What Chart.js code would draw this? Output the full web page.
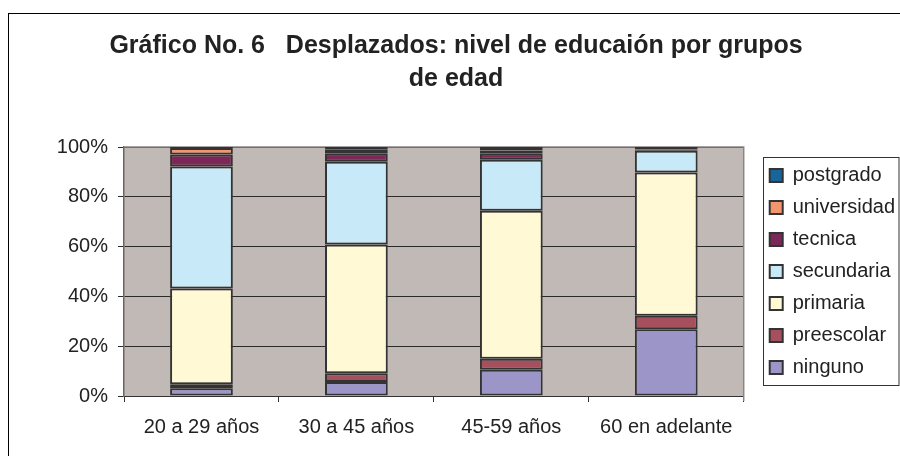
<!DOCTYPE html>
<html>
<head>
<meta charset="utf-8">
<script src="https://cdn.jsdelivr.net/npm/chart.js@4"></script>
<style>
  html, body { margin: 0; padding: 0; background: #fff; }
  #wrap { width: 900px; height: 456px; }
</style>
</head>
<body>
<div id="wrap"><canvas id="chart" width="900" height="456"></canvas></div>
<script>
// age groups and education levels (percent of each group)
const grupos = ['20 a 29 años', '30 a 45 años', '45-59 años', '60 en adelante'];
const ninguno     = [3.1, 5.6, 10.5, 26.8];
const preescolar  = [1.6, 3.5, 4.5, 5.4];
const primaria    = [38.5, 51.7, 59.4, 57.6];
const secundaria  = [49.0, 33.3, 20.5, 8.7];
const tecnica     = [4.8, 3.2, 2.4, 0.5];
const universidad = [2.6, 1.6, 1.3, 0.0];
const postgrado   = [0.4, 1.1, 1.4, 1.0];
const yTicks = [0, 20, 40, 60, 80, 100];

const FONT = "'Liberation Sans', Arial, sans-serif";
const TEXT = '#222';

function serie(label, data, color) {
    return {
        label,
        data,
        backgroundColor: color,
        borderColor: '#333',
        borderWidth: 2,
        borderSkipped: false,
        barPercentage: 0.405,
        categoryPercentage: 1
    };
}

// plot background, outer frame, legend frame
const framePlugin = {
    id: 'frame',
    afterLayout(chart) {
        const lg = chart.legend, a = chart.chartArea;
        // move legend a bit away from the plot and centre it on the plot area
        const dy = (a.top + a.bottom) / 2 - (lg.top + lg.bottom) / 2;
        lg.left += 14;
        lg.right += 14;
        lg.top += dy;
        lg.bottom += dy;
    },
    beforeDraw(chart) {
        const { ctx, chartArea: a } = chart;
        ctx.save();
        ctx.fillStyle = '#fff';
        ctx.fillRect(0, 0, chart.width, chart.height);
        ctx.strokeStyle = '#000';
        ctx.lineWidth = 1;
        ctx.strokeRect(8.5, 13.5, 1000, 1000);
        ctx.fillStyle = '#c0b9b6';
        ctx.fillRect(a.left, a.top, a.right - a.left, a.bottom - a.top);
        ctx.restore();
    },
    beforeDatasetsDraw(chart) {
        const { ctx, chartArea: a } = chart;
        ctx.save();
        ctx.strokeStyle = '#8a8585';
        ctx.lineWidth = 1.5;
        ctx.beginPath();
        ctx.moveTo(a.left, a.top);
        ctx.lineTo(a.right, a.top);
        ctx.lineTo(a.right, a.bottom + 5);
        ctx.stroke();
        ctx.restore();
    },
    afterDraw(chart) {
        const hb = chart.legend.legendHitBoxes;
        if (!hb || !hb.length) return;
        const { ctx } = chart;
        const first = hb[0], last = hb[hb.length - 1];
        ctx.save();
        ctx.strokeStyle = '#333';
        ctx.lineWidth = 1;
        const l = Math.round(first.left - 7) + 0.5;
        const t = Math.round(first.top - 9) + 0.5;
        const b = Math.round(last.top + last.height + 7) + 0.5;
        ctx.strokeRect(l, t, 899 - l, b - t);
        ctx.restore();
    }
};

new Chart(document.getElementById('chart'), {
    type: 'bar',
    data: {
        labels: grupos,
        datasets: [
            serie('ninguno', ninguno, '#9c96c8'),
            serie('preescolar', preescolar, '#a64f5d'),
            serie('primaria', primaria, '#fff9d6'),
            serie('secundaria', secundaria, '#c7e9f8'),
            serie('tecnica', tecnica, '#7c2757'),
            serie('universidad', universidad, '#f5956e'),
            serie('postgrado', postgrado, '#17659c')
        ]
    },
    options: {
        responsive: false,
        animation: false,
        events: [],
        layout: { padding: { left: 21, right: 9, top: 0, bottom: 0 } },
        plugins: {
            title: {
                display: true,
                text: ['Gráfico No. 6   Desplazados: nivel de educaión por grupos', 'de edad'],
                color: '#222',
                font: { family: FONT, size: 25, weight: 'bold', lineHeight: 1.32 },
                padding: { top: 30, bottom: 51 }
            },
            legend: {
                position: 'right',
                reverse: true,
                labels: {
                    color: TEXT,
                    font: { family: FONT, size: 20 },
                    boxWidth: 13,
                    boxHeight: 13,
                    padding: 12
                }
            },
            tooltip: { enabled: false }
        },
        scales: {
            x: {
                stacked: true,
                grid: { display: true, drawOnChartArea: false, offset: true, tickLength: 6, color: '#333' },
                border: { display: true, color: '#333', width: 1 },
                ticks: { color: TEXT, font: { family: FONT, size: 20 }, padding: 13, maxRotation: 0 },
                afterFit(s) { s.height = 60; }
            },
            y: {
                stacked: true,
                min: 0,
                max: 100,
                afterBuildTicks(s) { s.ticks = yTicks.map(v => ({ value: v })); },
                grid: { color: '#2a2a2a', tickLength: 6, lineWidth: 1 },
                border: { display: true, color: '#6a6565', width: 1.5 },
                ticks: { color: TEXT, font: { family: FONT, size: 20 }, padding: 10, callback: v => v + '%' },
                afterFit(s) { s.width = 103; }
            }
        }
    },
    plugins: [framePlugin]
});
</script>
</body>
</html>
